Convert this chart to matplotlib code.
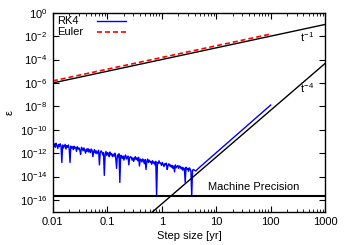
import numpy as np
import matplotlib
matplotlib.use('Agg')
import matplotlib.pyplot as plt
from matplotlib.ticker import LogLocator, NullFormatter, FixedLocator

plt.rcParams['font.family'] = ['Liberation Sans', 'DejaVu Sans']
plt.rcParams['mathtext.fontset'] = 'custom'
plt.rcParams['mathtext.rm'] = 'Liberation Sans'
plt.rcParams['mathtext.it'] = 'Liberation Sans'

# RK4 error, round-off dominated part (log10 step size, log10 error)
rk4_log_step = [
    -2.000, -1.985, -1.970, -1.955, -1.940, -1.925, -1.910, -1.895, -1.880, -1.865, -1.850, -1.835,
    -1.820, -1.805, -1.790, -1.775, -1.760, -1.745, -1.730, -1.715, -1.700, -1.685, -1.670, -1.655,
    -1.640, -1.625, -1.610, -1.595, -1.580, -1.565, -1.550, -1.535, -1.520, -1.505, -1.490, -1.475,
    -1.460, -1.445, -1.430, -1.415, -1.400, -1.385, -1.370, -1.355, -1.340, -1.325, -1.310, -1.295,
    -1.280, -1.265, -1.250, -1.235, -1.220, -1.205, -1.190, -1.175, -1.160, -1.145, -1.130, -1.115,
    -1.100, -1.085, -1.070, -1.055, -1.040, -1.025, -1.010, -0.995, -0.980, -0.965, -0.950, -0.935,
    -0.920, -0.905, -0.890, -0.875, -0.860, -0.845, -0.830, -0.815, -0.800, -0.785, -0.770, -0.755,
    -0.740, -0.725, -0.710, -0.695, -0.680, -0.665, -0.650, -0.635, -0.620, -0.605, -0.590, -0.575,
    -0.560, -0.545, -0.530, -0.515, -0.500, -0.485, -0.470, -0.455, -0.440, -0.425, -0.410, -0.395,
    -0.380, -0.365, -0.350, -0.335, -0.320, -0.305, -0.290, -0.275, -0.260, -0.245, -0.230, -0.215,
    -0.200, -0.185, -0.170, -0.155, -0.140, -0.125, -0.110, -0.095, -0.080, -0.065, -0.050, -0.035,
    -0.020, -0.005, 0.010, 0.025, 0.040, 0.055, 0.070, 0.085, 0.100, 0.115, 0.130, 0.145,
    0.160, 0.175, 0.190, 0.205, 0.220, 0.235, 0.250, 0.265, 0.280, 0.295, 0.310, 0.325,
    0.340, 0.355, 0.370, 0.385, 0.400, 0.415, 0.430, 0.445, 0.460, 0.475, 0.490, 0.505,
    0.520, 0.535, 0.550, 0.565, 0.580,
]
rk4_log_err = [
    -11.05, -11.45, -11.20, -11.50, -11.15, -11.35, -11.60, -11.25, -11.45, -11.20, -11.40, -12.80,
    -11.30, -11.55, -11.40, -11.25, -11.65, -11.35, -11.50, -11.30, -11.60, -12.80, -11.40, -11.55,
    -11.45, -11.70, -11.40, -11.60, -11.50, -11.85, -11.45, -11.65, -11.55, -11.75, -12.10, -11.50,
    -11.60, -11.80, -11.55, -11.75, -12.00, -11.65, -11.85, -11.60, -11.90, -11.70, -11.95, -11.65,
    -11.75, -12.30, -11.85, -11.70, -12.00, -11.80, -12.05, -11.90, -11.75, -13.00, -11.95, -11.80,
    -11.90, -12.15, -11.95, -13.90, -12.10, -11.85, -12.20, -11.95, -12.05, -12.30, -11.90, -12.15,
    -12.05, -12.30, -12.10, -12.25, -12.00, -12.45, -13.30, -12.15, -12.35, -12.05, -14.50, -12.20,
    -12.20, -12.45, -12.25, -12.60, -12.30, -12.15, -12.50, -12.35, -12.25, -13.00, -12.40, -12.30,
    -12.35, -12.60, -12.40, -12.70, -12.45, -12.30, -12.55, -12.40, -12.65, -12.35, -13.10, -12.50,
    -12.55, -12.75, -12.50, -12.65, -12.90, -12.55, -13.40, -12.70, -12.50, -12.80, -12.60, -12.75,
    -12.70, -12.95, -12.65, -12.85, -12.75, -13.00, -12.70, -15.70, -12.80, -12.90, -12.65, -12.85,
    -12.85, -13.05, -12.80, -12.95, -13.15, -12.90, -13.00, -12.85, -13.40, -13.05, -12.90, -13.10,
    -13.00, -13.20, -13.05, -13.30, -13.10, -13.60, -13.00, -13.25, -13.15, -13.05, -13.30, -13.10,
    -13.15, -13.35, -13.20, -13.45, -13.25, -13.35, -14.50, -13.20, -13.40, -13.30, -13.55, -13.25,
    -13.35, -13.55, -15.70, -13.45, -13.40,
]
# RK4 error, truncation dominated part
rk4_step_trunc = [4.2, 5.0, 10.0, 30.0, 100.0]
rk4_err_trunc = [3.0e-14, 6.5e-14, 1.1e-12, 1.0e-10, 1.3e-8]

# Euler error
euler_step = [0.01, 100.0]
euler_err = [1.5e-6, 1.5e-2]

# reference slopes
ref1_step = [0.01, 1000.0]
ref1_err = [1.0e-6, 1.0e-1]
ref4_step = [0.5, 1000.0]
ref4_err = [2.9e-18, 4.7e-5]

machine_eps = 2.22e-16

series_names = ['RK4', 'Euler']

rk4_step = list(np.power(10.0, rk4_log_step)) + rk4_step_trunc
rk4_err = list(np.power(10.0, rk4_log_err)) + rk4_err_trunc

fig = plt.figure(figsize=(3.5, 2.45), dpi=100)
ax = fig.add_axes([0.151, 0.136, 0.778, 0.812])

rk4_style = dict(color='#0000ff', lw=1.0)
euler_style = dict(color='#ff0000', lw=1.2, ls=(0, (3, 1.8)))

ax.plot(rk4_step, rk4_err, **rk4_style)
ax.plot(euler_step, euler_err, **euler_style)
ax.plot(ref1_step, ref1_err, color='black', lw=1.0)
ax.plot(ref4_step, ref4_err, color='black', lw=1.0)
ax.axhline(machine_eps, color='black', lw=1.5)

ax.set_xscale('log')
ax.set_yscale('log')
ax.set_xlim(0.01, 1000)
ax.set_ylim(1e-17, 1)

ax.yaxis.set_major_locator(FixedLocator([10.0 ** e for e in range(-16, 1, 2)]))
ax.yaxis.set_minor_locator(FixedLocator([]))
ax.set_yticklabels(['$10^{%d}$' % e for e in range(-16, 1, 2)])
ax.xaxis.set_major_locator(FixedLocator([0.01, 0.1, 1, 10, 100, 1000]))
ax.set_xticklabels(['0.01', '0.1', '1', '10', '100', '1000'])
ax.xaxis.set_minor_locator(LogLocator(base=10, subs=np.arange(2, 10), numticks=20))
ax.xaxis.set_minor_formatter(NullFormatter())

ax.tick_params(which='both', direction='in', top=True, right=True, labelsize=8, pad=4)
ax.tick_params(which='major', length=4, width=0.8)
ax.tick_params(which='minor', length=2, width=0.6)
for s in ax.spines.values():
    s.set_linewidth(1.0)

ax.set_xlabel('Step size [yr]', fontsize=8, labelpad=3)
ax.set_ylabel('ε', fontsize=8, labelpad=4)

ax.text(48, 4.5e-16, 'Machine Precision', fontsize=8, ha='center', va='bottom')
ax.text(470, 8e-3, '$t^{-1}$', fontsize=8, ha='center', va='center')
ax.text(470, 3.6e-7, '$t^{-4}$', fontsize=8, ha='center', va='center')

# gnuplot-like key: left-justified text, sample line to the right
for name, style, ky in zip(series_names, [rk4_style, euler_style], [0.957, 0.905]):
    ax.text(0.015, ky, name, transform=ax.transAxes, fontsize=8, ha='left', va='center')
    ax.plot([0.162, 0.268], [ky, ky], transform=ax.transAxes, **style)

fig.savefig('out.png', dpi=100)
